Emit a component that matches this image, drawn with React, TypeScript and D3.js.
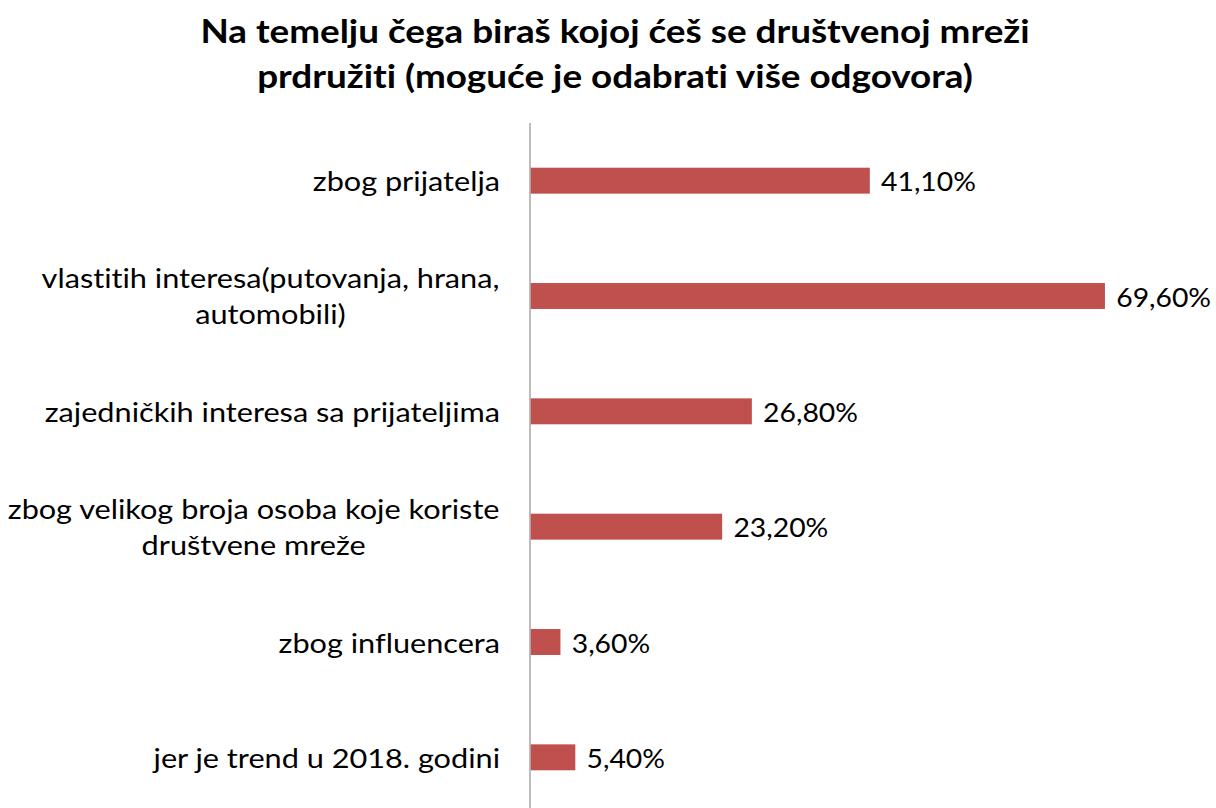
import React from "react";
import * as d3 from "d3";

const categories: string[][] = [
  ["zbog prijatelja"],
  ["vlastitih interesa(putovanja, hrana,", "automobili)"],
  ["zajedničkih interesa sa prijateljima"],
  ["zbog velikog broja osoba koje koriste", "društvene mreže"],
  ["zbog influencera"],
  ["jer je trend u 2018. godini"],
];
const values: number[] = [41.1, 69.6, 26.8, 23.2, 3.6, 5.4];
const valueLabels: string[] = ["41,10%", "69,60%", "26,80%", "23,20%", "3,60%", "5,40%"];
const titleLines: string[] = [
  "Na temelju čega biraš kojoj ćeš se društvenoj mreži",
  "prdružiti (moguće je odabrati više odgovora)",
];

const W = 1216;
const H = 808;
const FONT = "Lato, 'Open Sans', sans-serif";
const SX = 1.18;
const LABEL_SIZE = 26;

let ctx: CanvasRenderingContext2D | null = null;
function measure(t: string, size: number, weight = 400): number {
  if (!ctx) ctx = document.createElement("canvas").getContext("2d");
  if (!ctx) return t.length * size * 0.5;
  ctx.font = `${weight} ${size}px Lato, 'Open Sans', sans-serif`;
  return ctx.measureText(t).width;
}

function SText(props: {
  x: number;
  y: number;
  anchor: "start" | "middle" | "end";
  size: number;
  weight?: number;
  sx?: number;
  children: string;
}) {
  const sx = props.sx ?? SX;
  return (
    <g transform={`translate(${props.x},${props.y}) scale(${sx},1)`}>
      <text
        x={0}
        y={0}
        textAnchor={props.anchor}
        fontSize={props.size}
        fontWeight={props.weight ?? 400}
        fill="#000"
        style={{
          fontVariantLigatures: "none",
          fontFeatureSettings: '"liga" 0, "clig" 0, "dlig" 0',
        }}
      >
        {props.children}
      </text>
    </g>
  );
}

export default function App() {
  const ids = categories.map((_, i) => String(i));
  const x = d3.scaleLinear().domain([0, 80]).range([530, 530 + 80 * 8.25]);
  const y = d3
    .scaleBand<string>()
    .domain(ids)
    .range([123, 815])
    .paddingInner(0.775)
    .paddingOuter(0.3875);
  const labelRight = 500;
  return (
    <svg
      width={W}
      height={H}
      style={{ position: "absolute", left: 0, top: 0, background: "#fff" }}
      fontFamily={FONT}
    >
      {titleLines.map((t, i) => (
        <SText key={i} x={615} y={43 + i * 45} anchor="middle" size={31.5} weight={700} sx={1.17}>
          {t}
        </SText>
      ))}
      <line x1={x(0)} x2={x(0)} y1={123} y2={H} stroke="#a6a6a6" strokeWidth={1.5} />
      {values.map((v, i) => {
        const yy = y(ids[i])!;
        const bh = y.bandwidth();
        const cy = yy + bh / 2;
        const lines = categories[i];
        const maxW = Math.max(...lines.map((l) => measure(l, LABEL_SIZE) * SX));
        const blockCx = labelRight - maxW / 2;
        return (
          <g key={i}>
            <rect x={x(0) + 0.75} y={yy} width={x(v) - x(0)} height={bh} fill="#C0504D" />
            <SText x={x(v) + 12} y={cy + 10.5} anchor="start" size={26} sx={1.09}>
              {valueLabels[i]}
            </SText>
            {lines.length === 1 ? (
              <SText x={labelRight} y={cy + 10.5} anchor="end" size={LABEL_SIZE}>
                {lines[0]}
              </SText>
            ) : (
              lines.map((l, j) => (
                <SText key={j} x={blockCx} y={cy - 8 + j * 36} anchor="middle" size={LABEL_SIZE}>
                  {l}
                </SText>
              ))
            )}
          </g>
        );
      })}
    </svg>
  );
}
